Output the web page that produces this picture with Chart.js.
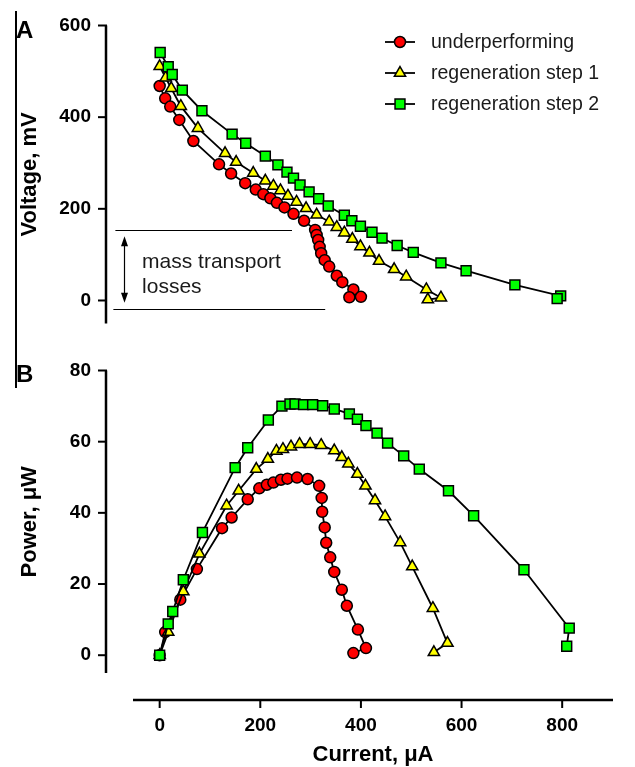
<!DOCTYPE html>
<html><head><meta charset="utf-8">
<script src="https://cdn.jsdelivr.net/npm/chart.js@4/dist/chart.umd.min.js"></script>
<style>
html,body{margin:0;padding:0;background:#fff;}
#wrap{position:relative;width:635px;height:767px;overflow:hidden;}
#c1{position:absolute;left:0;top:0;z-index:2;}
#c2{position:absolute;left:0;top:335px;z-index:1;}
#frame{position:absolute;left:15px;top:11px;width:1.5px;height:377px;background:#000;}
</style></head>
<body><div id="wrap"><div id="frame"></div>
<canvas id="c1" width="635" height="345"></canvas>
<canvas id="c2" width="635" height="432"></canvas></div>
<script>
// ---------- DATA ----------
const seriesNames = ['underperforming', 'regeneration step 1', 'regeneration step 2'];

// Panel A: polarization curves (current uA, voltage mV)
const underCurrentA = [0,11,21,39,67,118,142,170,191,206,220,233,248,266,287,309,312,315,318,321,328,337,352,363,385,400,377];
const underVoltage  = [468,441,423,394,348,297,277,256,242,232,223,213,203,189,174,154,143,132,117,103,88,74,54,40,24,8,7];
const step1CurrentA = [0,12,23,42,76,130,152,186,210,226,240,255,272,291,312,337,352,367,383,399,417,436,466,490,530,559,533];
const step1Voltage  = [511,486,463,424,376,321,302,278,261,250,240,228,215,201,187,172,160,148,134,118,104,86,68,52,24,6,2];
const step2CurrentA = [1,17,25,45,84,144,171,210,235,253,266,279,297,316,335,367,382,399,422,442,472,504,559,609,706,797,790];
const step2Voltage  = [541,510,493,459,414,363,343,315,296,280,267,252,237,222,206,186,174,162,149,136,120,105,82,65,34,10,4];

// Panel B: power curves (current uA, power uW)
const underCurrentB = [0,11,41,74,124,143,175,198,213,226,241,254,273,294,317,322,323,328,331,339,347,362,372,394,410,385];
const underPower    = [0,6.5,15.6,24.2,35.7,38.7,43.8,46.9,47.9,48.5,49.3,49.6,49.9,49.5,47.6,44.2,40.3,35.9,31.6,27.5,23.4,18.4,13.9,7.2,2.0,0.6];
const step1CurrentB = [0,17,47,79,133,157,192,215,232,245,261,278,299,321,347,362,375,393,409,428,448,478,502,543,572,545];
const step1Power    = [0,6.5,17.9,28.5,42,46.2,52.3,55.1,57.4,57.9,58.6,59.3,59.3,59,57.5,55.6,53.8,50.9,47.6,43.5,39,31.7,24.9,13.2,3.4,0.8];
const step2CurrentB = [0,17,26,47,85,150,175,216,243,259,269,286,304,324,347,377,393,410,432,453,485,516,574,624,724,814,809];
const step2Power    = [0,8.8,12.3,21.2,34.5,52.7,58.3,66.1,70,70.6,70.6,70.4,70.4,70.1,69.2,67.8,66.3,64.5,62.4,59.6,56,52.3,46.2,39.2,24,7.6,2.5];

// tick labels
const currentTicks = [0,200,400,600,800];
const voltageTicks = [0,200,400,600];
const powerTicks   = [0,20,40,60,80];

// annotation (mass transport losses) in data units of panel A
const lossUpperV = 154, lossUpperFrom = -88, lossUpperTo = 263;
const lossLowerV = -18, lossLowerFrom = -92, lossLowerTo = 329;
const arrowCurrent = -70, arrowTopV = 140, arrowBottomV = -5;
const lossTextCurrent = -35, lossText1V = 71, lossText2V = 16;

// ---------- STYLE ----------
const FONT = '"Liberation Sans", Arial, Helvetica, sans-serif';
Chart.defaults.font.family = FONT;
Chart.defaults.color = '#000';
const colors = ['#ff0000', '#ffff00', '#00ff00'];
const styles = ['circle', 'triangle', 'rect'];
const radii  = [5.5, 6.5, 7];
const orders = [3, 2, 1];

function ds(i, xs, ys) {
  return {
    label: seriesNames[i],
    data: xs.map((x, k) => ({x: x, y: ys[k]})),
    borderColor: '#000', borderWidth: 1.8, tension: 0, fill: false,
    pointStyle: styles[i], pointRadius: radii[i], pointHoverRadius: radii[i],
    pointBackgroundColor: colors[i], pointBorderColor: '#000', pointBorderWidth: 1.5,
    order: orders[i], clip: false
  };
}

function setTicks(arr) { return s => { s.ticks = arr.map(v => ({value: v})); }; }

const offsetAxes = {
  id: 'offsetAxes',
  afterDraw(chart, args, opts) {
    const ctx = chart.ctx, a = chart.chartArea, g = opts.gap;
    ctx.save();
    ctx.strokeStyle = '#000';
    const ys = chart.scales.y;
    const xa = a.left - g;
    ctx.lineWidth = 2.5;
    ctx.beginPath(); ctx.moveTo(xa, a.top); ctx.lineTo(xa, a.bottom); ctx.stroke();
    ctx.lineWidth = 2;
    ys.ticks.forEach(t => {
      const p = ys.getPixelForValue(t.value);
      ctx.beginPath(); ctx.moveTo(xa - 8, p); ctx.lineTo(xa + 1, p); ctx.stroke();
    });
    if (opts.xAxis) {
      const xs = chart.scales.x;
      const ya = a.bottom + g;
      ctx.lineWidth = 2.5;
      ctx.beginPath(); ctx.moveTo(a.left, ya); ctx.lineTo(a.right, ya); ctx.stroke();
      ctx.lineWidth = 2;
      xs.ticks.forEach(t => {
        const p = xs.getPixelForValue(t.value);
        ctx.beginPath(); ctx.moveTo(p, ya - 1); ctx.lineTo(p, ya + 8); ctx.stroke();
      });
    }
    if (opts.panel) {
      ctx.fillStyle = '#000';
      ctx.font = 'bold 24px ' + FONT;
      ctx.textBaseline = 'alphabetic';
      ctx.fillText(opts.panel, 16, opts.panelY);
    }
    ctx.restore();
  }
};

function drawMarker(ctx, i, x, y) {
  const r = radii[i];
  ctx.fillStyle = colors[i]; ctx.strokeStyle = '#000'; ctx.lineWidth = 1.5;
  ctx.beginPath();
  if (styles[i] === 'circle') ctx.arc(x, y, r, 0, Math.PI * 2);
  else if (styles[i] === 'rect') { const s = Math.SQRT1_2 * r; ctx.rect(x - s, y - s, 2 * s, 2 * s); }
  else {
    ctx.moveTo(x, y - r);
    ctx.lineTo(x + r * Math.cos(Math.PI / 6), y + r / 2);
    ctx.lineTo(x - r * Math.cos(Math.PI / 6), y + r / 2);
    ctx.closePath();
  }
  ctx.fill(); ctx.stroke();
}

const legendAndNotes = {
  id: 'legendAndNotes',
  afterDatasetsDraw(chart) {
    const ctx = chart.ctx, xs = chart.scales.x, ys = chart.scales.y;
    ctx.save();
    // legend
    const rows = [42, 73, 104];
    seriesNames.forEach((name, i) => {
      const y = rows[i];
      ctx.strokeStyle = '#000'; ctx.lineWidth = 1.8;
      ctx.beginPath(); ctx.moveTo(385, y); ctx.lineTo(415, y); ctx.stroke();
      drawMarker(ctx, i, 400, y);
      ctx.fillStyle = '#1a1a1a';
      ctx.font = '19.5px ' + FONT;
      ctx.textBaseline = 'middle';
      ctx.fillText(name, 431, y + 1);
    });
    // mass transport annotation
    ctx.strokeStyle = '#000'; ctx.lineWidth = 1.2;
    const hl = (v, f, t) => {
      const p = Math.round(ys.getPixelForValue(v)) + 0.5;
      ctx.beginPath(); ctx.moveTo(xs.getPixelForValue(f), p); ctx.lineTo(xs.getPixelForValue(t), p); ctx.stroke();
    };
    hl(lossUpperV, lossUpperFrom, lossUpperTo);
    hl(lossLowerV, lossLowerFrom, lossLowerTo);
    const ax = Math.round(xs.getPixelForValue(arrowCurrent)) + 0.5;
    const y1 = ys.getPixelForValue(arrowTopV), y2 = ys.getPixelForValue(arrowBottomV);
    ctx.beginPath(); ctx.moveTo(ax, y1 + 5); ctx.lineTo(ax, y2 - 5); ctx.stroke();
    ctx.fillStyle = '#000';
    ctx.beginPath(); ctx.moveTo(ax, y1); ctx.lineTo(ax - 3.5, y1 + 10); ctx.lineTo(ax + 3.5, y1 + 10); ctx.closePath(); ctx.fill();
    ctx.beginPath(); ctx.moveTo(ax, y2); ctx.lineTo(ax - 3.5, y2 - 10); ctx.lineTo(ax + 3.5, y2 - 10); ctx.closePath(); ctx.fill();
    ctx.fillStyle = '#1a1a1a';
    ctx.font = '21px ' + FONT;
    ctx.textBaseline = 'alphabetic';
    const tx = xs.getPixelForValue(lossTextCurrent);
    ctx.fillText('mass transport', tx, ys.getPixelForValue(lossText1V));
    ctx.fillText('losses', tx, ys.getPixelForValue(lossText2V));
    ctx.restore();
  }
};

const tickFont = {family: FONT, size: 19, weight: 'bold'};
const titleFont = {family: FONT, size: 22, weight: 'bold', lineHeight: 1};

// ---------- PANEL A ----------
new Chart(document.getElementById('c1'), {
  type: 'line',
  data: { datasets: [
    ds(0, underCurrentA, underVoltage),
    ds(1, step1CurrentA, step1Voltage),
    ds(2, step2CurrentA, step2Voltage)
  ]},
  options: {
    responsive: false, animation: false, events: [],
    layout: { padding: {left: 0, top: 25.5, right: 22, bottom: 21.6} },
    plugins: { legend: {display: false}, tooltip: {enabled: false},
      offsetAxes: {gap: 27, xAxis: false, panel: 'A', panelY: 38} },
    scales: {
      x: { type: 'linear', min: -53, max: 901, display: false },
      y: {
        type: 'linear', min: -50, max: 600,
        afterBuildTicks: setTicks(voltageTicks),
        afterFit: s => { s.width = 133; },
        grid: {display: false, drawTicks: true, tickLength: 35},
        border: {display: false},
        ticks: {padding: 7, color: '#000', font: tickFont},
        title: {display: true, text: 'Voltage, mV', color: '#000', font: titleFont, padding: {top: 19, bottom: 0}}
      }
    }
  },
  plugins: [offsetAxes, legendAndNotes]
});

// ---------- PANEL B ----------
new Chart(document.getElementById('c2'), {
  type: 'line',
  data: { datasets: [
    ds(0, underCurrentB, underPower),
    ds(1, step1CurrentB, step1Power),
    ds(2, step2CurrentB, step2Power)
  ]},
  options: {
    responsive: false, animation: false, events: [],
    layout: { padding: {left: 0, top: 35.5, right: 22, bottom: 0} },
    plugins: { legend: {display: false}, tooltip: {enabled: false},
      offsetAxes: {gap: 27, xAxis: true, panel: 'B', panelY: 47} },
    scales: {
      x: {
        type: 'linear', min: -53, max: 901,
        afterBuildTicks: setTicks(currentTicks),
        afterFit: s => { s.height = 94; },
        grid: {display: false, drawTicks: true, tickLength: 34},
        border: {display: false},
        ticks: {padding: 7, color: '#000', font: tickFont, maxRotation: 0},
        title: {display: true, text: 'Current, μA', color: '#000', font: titleFont, padding: {top: 0, bottom: 1}}
      },
      y: {
        type: 'linear', min: -5, max: 80,
        afterBuildTicks: setTicks(powerTicks),
        afterFit: s => { s.width = 133; },
        grid: {display: false, drawTicks: true, tickLength: 35},
        border: {display: false},
        ticks: {padding: 7, color: '#000', font: tickFont},
        title: {display: true, text: 'Power, μW', color: '#000', font: titleFont, padding: {top: 19, bottom: 0}}
      }
    }
  },
  plugins: [offsetAxes]
});
</script>
</body></html>
